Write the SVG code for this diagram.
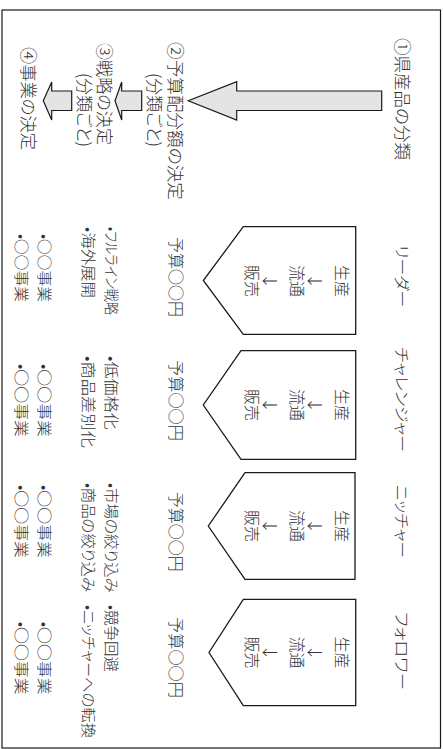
<svg xmlns="http://www.w3.org/2000/svg" width="443" height="749" viewBox="0 0 443 749">
<style>
text{font-family:"Noto Sans CJK JP","Noto Sans",sans-serif;fill:#333333;font-weight:300;font-feature-settings:"palt";}
.h{font-size:17px;}
.l{font-size:15.5px;}
.p{font-size:16px;text-anchor:middle;}
.b{font-size:16px;}
.s{font-size:15px;}
.arrow{fill:#e4e4e4;stroke:#1a1a1a;stroke-width:1.2;stroke-linejoin:miter;}
.pent{fill:#ffffff;stroke:#1a1a1a;stroke-width:1.3;stroke-linejoin:miter;}
</style>
<rect x="0" y="0" width="443" height="749" fill="#ffffff"/>
<g transform="translate(443,0) rotate(90)">
<rect id="frame" x="10" y="2.5" width="738" height="438.5" fill="none" stroke="#1a1a1a" stroke-width="1.2"/>
<g id="steps">
<text class="h" x="38" y="47.5" textLength="122" lengthAdjust="spacingAndGlyphs">①県産品の分類</text>
<text class="h" x="42" y="274" textLength="158" lengthAdjust="spacingAndGlyphs">②予算配分額の決定</text>
<text class="h" x="73" y="295.5" textLength="74" lengthAdjust="spacingAndGlyphs">(分類ごと)</text>
<text class="h" x="43" y="345.5" textLength="102" lengthAdjust="spacingAndGlyphs">③戦略の決定</text>
<text class="h" x="73" y="365.5" textLength="74" lengthAdjust="spacingAndGlyphs">(分類ごと)</text>
<text class="h" x="47" y="421" textLength="103" lengthAdjust="spacingAndGlyphs">④事業の決定</text>
</g>
<g id="connectors">
<path class="arrow" d="M91,61.3 L110.5,61.3 L110.5,206.3 L120,206.3 L100.8,254.7 L81.7,206.3 L91,206.3 Z"/>
<path class="arrow" d="M91,301.3 L110.5,301.3 L110.5,321.3 L120,321.3 L100.8,328 L82,321.3 L91,321.3 Z"/>
<path class="arrow" d="M91,371.3 L110.5,371.3 L110.5,391.3 L120,391.3 L100.8,399.7 L82,391.3 L91,391.3 Z"/>
</g>
<g id="leader">
<text class="l" x="245" y="47" textLength="62" lengthAdjust="spacingAndGlyphs">リーダー</text>
<path class="pent" d="M226.7,87.3 L334.3,87.3 L334.3,199.7 L280.5,239.7 L226.7,199.7 Z"/>
<text class="p" x="281" y="107.3">生産</text>
<text class="p" x="281" y="134">↓</text>
<text class="p" x="281" y="152.3">流通</text>
<text class="p" x="281" y="179">↓</text>
<text class="p" x="281" y="197.3">販売</text>
<text class="b" x="237" y="273.3" textLength="80" lengthAdjust="spacingAndGlyphs">予算○○円</text>
<text class="s" x="227" y="337" textLength="88" lengthAdjust="spacingAndGlyphs">•フルライン戦略</text>
<text class="s" x="227" y="360.4" textLength="71" lengthAdjust="spacingAndGlyphs">•海外展開</text>
<text class="s" x="234" y="403.7" textLength="68" lengthAdjust="spacingAndGlyphs">•○○事業</text>
<text class="s" x="234" y="427" textLength="68" lengthAdjust="spacingAndGlyphs">•○○事業</text>
</g>
<g id="challenger">
<text class="l" x="347" y="47" textLength="105" lengthAdjust="spacingAndGlyphs">チャレンジャー</text>
<path class="pent" d="M350.7,87.3 L459.3,87.3 L459.3,202 L405,239.7 L350.7,202 Z"/>
<text class="p" x="405" y="107.3">生産</text>
<text class="p" x="405" y="134">↓</text>
<text class="p" x="405" y="152.3">流通</text>
<text class="p" x="405" y="179">↓</text>
<text class="p" x="405" y="197.3">販売</text>
<text class="b" x="360" y="273.3" textLength="81" lengthAdjust="spacingAndGlyphs">予算○○円</text>
<text class="s" x="356" y="337" textLength="74" lengthAdjust="spacingAndGlyphs">•低価格化</text>
<text class="s" x="356" y="360.4" textLength="92" lengthAdjust="spacingAndGlyphs">•商品差別化</text>
<text class="s" x="364" y="403.7" textLength="73" lengthAdjust="spacingAndGlyphs">•○○事業</text>
<text class="s" x="364" y="427" textLength="73" lengthAdjust="spacingAndGlyphs">•○○事業</text>
</g>
<g id="nicher">
<text class="l" x="485" y="47" textLength="73" lengthAdjust="spacingAndGlyphs">ニッチャー</text>
<path class="pent" d="M472.7,88 L579.3,88 L579.3,198 L526,234.7 L472.7,198 Z"/>
<text class="p" x="526" y="107.3">生産</text>
<text class="p" x="526" y="134">↓</text>
<text class="p" x="526" y="152.3">流通</text>
<text class="p" x="526" y="179">↓</text>
<text class="p" x="526" y="197.3">販売</text>
<text class="b" x="491.7" y="273.3" textLength="80" lengthAdjust="spacingAndGlyphs">予算○○円</text>
<text class="s" x="483" y="337" textLength="110" lengthAdjust="spacingAndGlyphs">•市場の絞り込み</text>
<text class="s" x="483" y="360.4" textLength="109" lengthAdjust="spacingAndGlyphs">•商品の絞り込み</text>
<text class="s" x="485" y="403.7" textLength="73" lengthAdjust="spacingAndGlyphs">•○○事業</text>
<text class="s" x="485" y="427" textLength="73" lengthAdjust="spacingAndGlyphs">•○○事業</text>
</g>
<g id="follower">
<text class="l" x="612" y="47" textLength="78" lengthAdjust="spacingAndGlyphs">フォロワー</text>
<path class="pent" d="M599.3,87.3 L705.7,87.3 L705.7,199.7 L652.5,234 L599.3,199.7 Z"/>
<text class="p" x="652.5" y="107.3">生産</text>
<text class="p" x="652.5" y="134">↓</text>
<text class="p" x="652.5" y="152.3">流通</text>
<text class="p" x="652.5" y="179">↓</text>
<text class="p" x="652.5" y="197.3">販売</text>
<text class="b" x="617" y="273.3" textLength="81" lengthAdjust="spacingAndGlyphs">予算○○円</text>
<text class="s" x="605" y="337" textLength="67" lengthAdjust="spacingAndGlyphs">•競争回避</text>
<text class="s" x="605" y="360.4" textLength="133" lengthAdjust="spacingAndGlyphs">•ニッチャーへの転換</text>
<text class="s" x="621.7" y="403.7" textLength="73" lengthAdjust="spacingAndGlyphs">•○○事業</text>
<text class="s" x="621.7" y="427" textLength="73" lengthAdjust="spacingAndGlyphs">•○○事業</text>
</g>
</g>
</svg>
